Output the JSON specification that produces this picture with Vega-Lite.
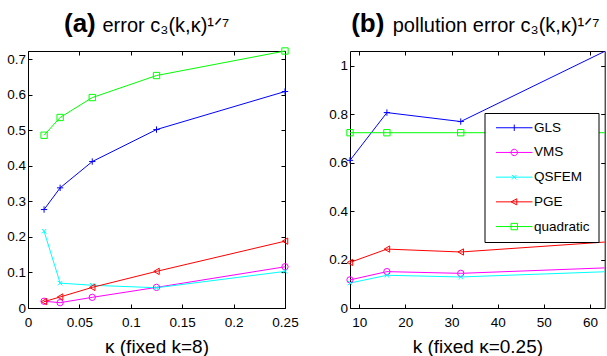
{
  "$schema": "https://vega.github.io/schema/vega-lite/v6.json",
  "padding": {"left": 6, "top": 9, "right": 0, "bottom": 0},
  "autosize": {"type": "pad"},
  "spacing": 29,
  "datasets": {
    "a": [
      {"method": "GLS", "x": 0.015625, "y": 0.277},
      {"method": "GLS", "x": 0.03125, "y": 0.338},
      {"method": "GLS", "x": 0.0625, "y": 0.412},
      {"method": "GLS", "x": 0.125, "y": 0.502},
      {"method": "GLS", "x": 0.25, "y": 0.609},
      {"method": "VMS", "x": 0.015625, "y": 0.019},
      {"method": "VMS", "x": 0.03125, "y": 0.015},
      {"method": "VMS", "x": 0.0625, "y": 0.030},
      {"method": "VMS", "x": 0.125, "y": 0.058},
      {"method": "VMS", "x": 0.25, "y": 0.116},
      {"method": "QSFEM", "x": 0.015625, "y": 0.216},
      {"method": "QSFEM", "x": 0.03125, "y": 0.070},
      {"method": "QSFEM", "x": 0.0625, "y": 0.064},
      {"method": "QSFEM", "x": 0.125, "y": 0.057},
      {"method": "QSFEM", "x": 0.25, "y": 0.103},
      {"method": "PGE", "x": 0.015625, "y": 0.018},
      {"method": "PGE", "x": 0.03125, "y": 0.031},
      {"method": "PGE", "x": 0.0625, "y": 0.058},
      {"method": "PGE", "x": 0.125, "y": 0.103},
      {"method": "PGE", "x": 0.25, "y": 0.188},
      {"method": "quadratic", "x": 0.015625, "y": 0.486},
      {"method": "quadratic", "x": 0.03125, "y": 0.536},
      {"method": "quadratic", "x": 0.0625, "y": 0.592},
      {"method": "quadratic", "x": 0.125, "y": 0.654},
      {"method": "quadratic", "x": 0.25, "y": 0.723}
    ],
    "b": [
      {"method": "GLS", "x": 8, "y": 0.609},
      {"method": "GLS", "x": 16, "y": 0.806},
      {"method": "GLS", "x": 32, "y": 0.769},
      {"method": "GLS", "x": 64, "y": 1.066},
      {"method": "VMS", "x": 8, "y": 0.116},
      {"method": "VMS", "x": 16, "y": 0.150},
      {"method": "VMS", "x": 32, "y": 0.143},
      {"method": "VMS", "x": 64, "y": 0.166},
      {"method": "QSFEM", "x": 8, "y": 0.103},
      {"method": "QSFEM", "x": 16, "y": 0.135},
      {"method": "QSFEM", "x": 32, "y": 0.128},
      {"method": "QSFEM", "x": 64, "y": 0.150},
      {"method": "PGE", "x": 8, "y": 0.188},
      {"method": "PGE", "x": 16, "y": 0.243},
      {"method": "PGE", "x": 32, "y": 0.231},
      {"method": "PGE", "x": 64, "y": 0.273},
      {"method": "quadratic", "x": 8, "y": 0.723},
      {"method": "quadratic", "x": 16, "y": 0.723},
      {"method": "quadratic", "x": 32, "y": 0.723},
      {"method": "quadratic", "x": 64, "y": 0.723}
    ]
  },
  "resolve": {
    "scale": {"color": "independent", "shape": "independent"},
    "legend": {"color": "independent", "shape": "independent"}
  },
  "hconcat": [
    {
      "width": 257,
      "height": 257,
      "title": {
        "text": "error c₃(k,κ)¹ᐟ⁷",
        "anchor": "start",
        "frame": "group",
        "dx": 74.5
      },
      "data": {"name": "a"},
      "layer": [
        {
          "mark": {"type": "line", "strokeWidth": 1},
          "encoding": {
            "x": {"field": "x", "type": "quantitative",
              "scale": {"domain": [0, 0.25], "nice": false, "zero": false},
              "axis": {"values": [0, 0.05, 0.1, 0.15, 0.2, 0.25], "labelExpr": "'' + datum.value", "title": "κ (fixed k=8)"}},
            "y": {"field": "y", "type": "quantitative",
              "scale": {"domain": [0, 0.723], "nice": false},
              "axis": {"values": [0, 0.1, 0.2, 0.3, 0.4, 0.5, 0.6, 0.7], "labelExpr": "'' + datum.value", "title": null}},
            "color": {"field": "method", "type": "nominal",
              "scale": {"domain": ["GLS", "VMS", "QSFEM", "PGE", "quadratic"], "range": ["#0000ff", "#ff00ff", "#00ffff", "#ff0000", "#00ff00"]},
              "legend": null}
          }
        },
        {
          "mark": {"type": "point", "filled": false, "strokeWidth": 1, "size": 40, "opacity": 1},
          "encoding": {
            "x": {"field": "x", "type": "quantitative",
              "axis": {"orient": "top", "values": [0, 0.05, 0.1, 0.15, 0.2, 0.25], "labels": false,
                "title": "(a)", "titleFontSize": 26, "titleFontWeight": "bold", "titleX": 35.5, "titleY": -20,
                "titleAlign": "left", "titleBaseline": "alphabetic", "titleAngle": 0}},
            "y": {"field": "y", "type": "quantitative",
              "axis": {"orient": "right", "values": [0, 0.1, 0.2, 0.3, 0.4, 0.5, 0.6, 0.7], "labels": false, "title": null}},
            "color": {"field": "method", "type": "nominal", "legend": null},
            "shape": {"field": "method", "type": "nominal",
              "scale": {"domain": ["GLS", "VMS", "QSFEM", "PGE", "quadratic"], "range": ["M-1,0L1,0M0,-1L0,1", "circle", "M-0.7,-0.7L0.7,0.7M-0.7,0.7L0.7,-0.7", "triangle-left", "square"]},
              "legend": null}
          }
        }
      ],
      "resolve": {"axis": {"x": "independent", "y": "independent"}}
    },
    {
      "width": 254.7,
      "height": 257,
      "title": {
        "text": "pollution error c₃(k,κ)¹ᐟ⁷",
        "anchor": "start",
        "frame": "group",
        "dx": 42.7
      },
      "data": {"name": "b"},
      "layer": [
        {
          "mark": {"type": "line", "strokeWidth": 1, "clip": true},
          "encoding": {
            "x": {"field": "x", "type": "quantitative",
              "scale": {"domain": [8, 63.2], "nice": false, "zero": false},
              "axis": {"values": [10, 20, 30, 40, 50, 60], "labelExpr": "'' + datum.value", "title": "k (fixed κ=0.25)"}},
            "y": {"field": "y", "type": "quantitative",
              "scale": {"domain": [0, 1.06], "nice": false},
              "axis": {"values": [0, 0.2, 0.4, 0.6, 0.8, 1], "labelExpr": "'' + datum.value", "title": null}},
            "color": {"field": "method", "type": "nominal",
              "scale": {"domain": ["GLS", "VMS", "QSFEM", "PGE", "quadratic"], "range": ["#0000ff", "#ff00ff", "#00ffff", "#ff0000", "#00ff00"]},
              "legend": null}
          }
        },
        {
          "transform": [{"filter": "datum.x < 64"}],
          "mark": {"type": "point", "filled": false, "strokeWidth": 1, "size": 40, "opacity": 1},
          "encoding": {
            "x": {"field": "x", "type": "quantitative",
              "axis": {"orient": "top", "values": [10, 20, 30, 40, 50, 60], "labels": false,
                "title": "(b)", "titleFontSize": 26, "titleFontWeight": "bold", "titleX": 0.7, "titleY": -20,
                "titleAlign": "left", "titleBaseline": "alphabetic", "titleAngle": 0}},
            "y": {"field": "y", "type": "quantitative",
              "axis": {"orient": "right", "values": [0, 0.2, 0.4, 0.6, 0.8, 1], "labels": false, "title": null}},
            "color": {"field": "method", "type": "nominal", "legend": null},
            "shape": {"field": "method", "type": "nominal",
              "scale": {"domain": ["GLS", "VMS", "QSFEM", "PGE", "quadratic"], "range": ["M-1,0L1,0M0,-1L0,1", "circle", "M-0.7,-0.7L0.7,0.7M-0.7,0.7L0.7,-0.7", "triangle-left", "square"]},
              "legend": null}
          }
        },
        {
          "transform": [{"filter": "datum.x < 0"}],
          "mark": {"type": "point", "filled": false, "strokeWidth": 1, "size": 41, "opacity": 1},
          "encoding": {
            "x": {"field": "x", "type": "quantitative", "axis": null},
            "y": {"field": "y", "type": "quantitative", "axis": null},
            "color": {"field": "method", "type": "nominal",
              "legend": {
                "orient": "none", "legendX": 134.5, "legendY": 62, "title": null,
                "strokeColor": "black", "fillColor": "white", "padding": 8,
                "labelFontSize": 13.5, "labelColor": "black", "labelFont": "Liberation Sans",
                "symbolSize": 41, "symbolStrokeWidth": 1, "symbolOffset": 15, "labelOffset": 13,
                "rowPadding": 9.7, "symbolFillColor": "transparent", "symbolOpacity": 1
              }},
            "shape": {"field": "method", "type": "nominal",
              "scale": {"domain": ["GLS", "VMS", "QSFEM", "PGE", "quadratic"], "range": ["M-5.7,0L5.7,0M0,-1L0,1", "M-5.7,0L5.7,0M1,0A1,1 0 1,1 -1,0A1,1 0 1,1 1,0", "M-5.7,0L5.7,0M-0.7,-0.7L0.7,0.7M-0.7,0.7L0.7,-0.7", "M-5.7,0L5.7,0M-1,0L0.8,-0.95L0.8,0.95Z", "M-5.7,0L5.7,0M-1,-1L1,-1L1,1L-1,1Z"]},
              "legend": {
                "orient": "none", "legendX": 134.5, "legendY": 62, "title": null,
                "strokeColor": "black", "fillColor": "white", "padding": 8,
                "labelFontSize": 13.5, "labelColor": "black", "labelFont": "Liberation Sans",
                "symbolSize": 41, "symbolStrokeWidth": 1, "symbolOffset": 15, "labelOffset": 13,
                "rowPadding": 9.7, "symbolFillColor": "transparent", "symbolOpacity": 1
              }}
          }
        }
      ],
      "resolve": {
        "axis": {"x": "independent", "y": "independent"},
        "scale": {"shape": "independent"},
        "legend": {"color": "independent", "shape": "independent"}
      }
    }
  ],
  "config": {
    "font": "Liberation Sans",
    "view": {"stroke": "black", "strokeWidth": 1},
    "axis": {
      "grid": false,
      "domain": false,
      "ticks": true,
      "tickColor": "black",
      "tickSize": -4,
      "labelFlush": false,
      "labelFont": "Liberation Sans",
      "labelFontSize": 13.5,
      "labelColor": "black",
      "titleFont": "Liberation Sans",
      "titleFontSize": 19,
      "titleFontWeight": "normal",
      "titleColor": "black"
    },
    "axisX": {"labelPadding": 11.5, "titlePadding": 8},
    "axisY": {"labelPadding": 6.5},
    "title": {
      "font": "Liberation Sans",
      "fontSize": 20,
      "fontWeight": "normal",
      "color": "black",
      "baseline": "alphabetic",
      "offset": -26
    }
  }
}
